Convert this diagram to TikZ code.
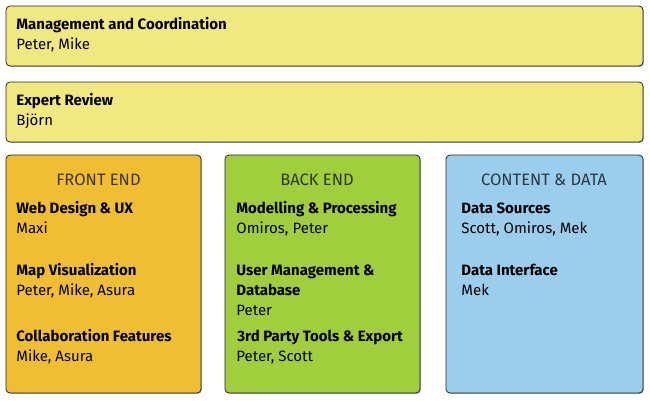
\documentclass[tikz,border=0pt]{standalone}
\usepackage{fontspec}
\setmainfont{Fira Sans}
\usepackage{tikz}
\usetikzlibrary{shadows}
\definecolor{mgmtyellow}{RGB}{240,232,128}
\definecolor{frontorange}{RGB}{240,190,50}
\definecolor{backgreen}{RGB}{160,206,60}
\definecolor{datablue}{RGB}{155,205,236}

\begin{document}
\begin{tikzpicture}[x=1pt,y=-1pt,line width=0.8pt,
    panel/.style={draw=black!85,rounded corners=4pt,
      drop shadow={shadow xshift=0.8pt,shadow yshift=-0.8pt,opacity=0.5,fill=black!70}},
    head/.style={anchor=base west,inner sep=0pt,font=\fontsize{15}{17}\selectfont\bfseries},
    who/.style={anchor=base west,inner sep=0pt,font=\fontsize{15}{17}\selectfont},
    title/.style={anchor=base,inner sep=0pt,text=black,text opacity=0.72,font=\fontsize{16.5}{18}\selectfont}]
    \useasboundingbox (0,0) rectangle (650,400);
    % boxes
    \filldraw[panel,fill=mgmtyellow] (6,6) rectangle (643,66);
    \filldraw[panel,fill=mgmtyellow] (6,82) rectangle (643,142);
    \filldraw[panel,fill=frontorange] (6,155) rectangle (201,393);
    \filldraw[panel,fill=backgreen] (225,155) rectangle (420,393);
    \filldraw[panel,fill=datablue] (446,155) rectangle (643,393);
    % top rows
    \node[head] (mgmt) at (16,29) {Management and Coordination};
    \node[who] (mgmtwho) at (16,49) {Peter, Mike};
    \node[head] (review) at (16,105) {Expert Review};
    \node[who] (reviewwho) at (16,125) {Björn};
    % front end
    \node[title] (front) at (98.5,185) {FRONT END};
    \node[head] (web) at (16,213) {Web Design \& UX};
    \node[who] (webwho) at (16,233) {Maxi};
    \node[head] (map) at (16,275) {Map Visualization};
    \node[who] (mapwho) at (16,295) {Peter, Mike, Asura};
    \node[head] (collab) at (16,341) {Collaboration Features};
    \node[who] (collabwho) at (16,361) {Mike, Asura};
    % back end
    \node[title] (back) at (317,185) {BACK END};
    \node[head] (model) at (236,213) {Modelling \& Processing};
    \node[who] (modelwho) at (236,233) {Omiros, Peter};
    \node[head] (user) at (236,275) {User Management \&};
    \node[head] (db) at (236,295) {Database};
    \node[who] (userwho) at (236,315) {Peter};
    \node[head] (tools) at (237,341) {3rd Party Tools \& Export};
    \node[who] (toolswho) at (236,361) {Peter, Scott};
    % content & data
    \node[title] (content) at (544,185) {CONTENT \& DATA};
    \node[head] (sources) at (461,213) {Data Sources};
    \node[who] (sourceswho) at (461,233) {Scott, Omiros, Mek};
    \node[head] (iface) at (461,275) {Data Interface};
    \node[who] (ifacewho) at (461,295) {Mek};
\end{tikzpicture}
\end{document}
